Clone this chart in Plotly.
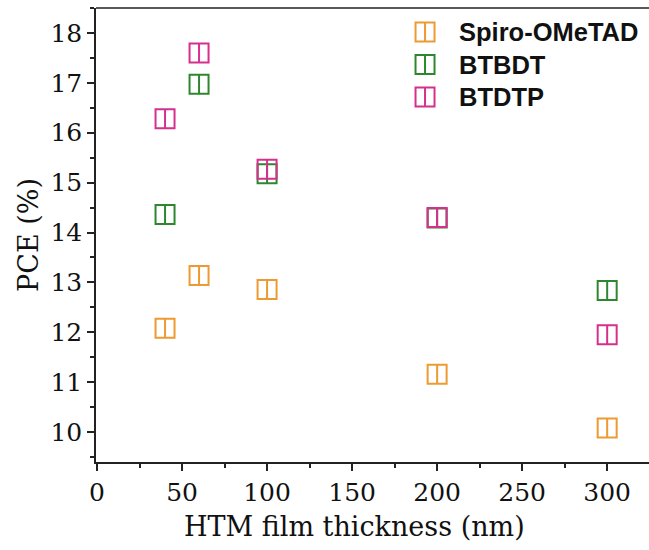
import plotly.graph_objects as go

# ---- data ----
thickness = [40, 60, 100, 200, 300]
series_names = ["Spiro-OMeTAD", "BTBDT", "BTDTP"]
pce_spiro = [12.08, 13.14, 12.86, 11.16, 10.08]
pce_btbdt = [14.36, 16.97, 15.18, 14.29, 12.84]
pce_btdtp = [16.28, 17.60, 15.27, 14.30, 11.95]
series_values = [pce_spiro, pce_btbdt, pce_btdtp]
colors = ["#EE9A32", "#2E872E", "#D6308E"]

x_ticks = [0, 50, 100, 150, 200, 250, 300]
y_ticks = [10, 11, 12, 13, 14, 15, 16, 17, 18]
x_title = "HTM film thickness (nm)"
y_title = "PCE (%)"

fig = go.Figure()

for name, vals, col in zip(series_names, series_values, colors):
    fig.add_trace(go.Scatter(
        x=thickness, y=vals, mode="markers", name=name, showlegend=False,
        marker=dict(symbol="square-open", size=19, color=col,
                    line=dict(width=2, color=col)),
    ))
    fig.add_trace(go.Scatter(
        x=thickness, y=vals, mode="markers", showlegend=False, hoverinfo="skip",
        marker=dict(symbol="line-ns-open", size=13.4, color=col,
                    line=dict(width=2, color=col)),
    ))

# ---- custom legend (inset axis) ----
n = len(series_names)
for i, (name, col) in enumerate(zip(series_names, colors)):
    yy = n - i
    for sym, sz in (("square-open", 19), ("line-ns-open", 13.4)):
        fig.add_trace(go.Scatter(
            x=[0.5], y=[yy], xaxis="x2", yaxis="y2", mode="markers",
            showlegend=False, hoverinfo="skip",
            marker=dict(symbol=sym, size=sz, color=col, line=dict(width=2, color=col)),
        ))
    fig.add_annotation(x=0.652, y=yy, xref="paper", yref="y2", text="<b>%s</b>" % name,
                       showarrow=False, xanchor="left", yanchor="middle",
                       font=dict(family="Liberation Sans", size=25.5, color="#111"),
                       )

tick_font = dict(family="DejaVu Serif", size=25, color="#111")
title_font = dict(family="DejaVu Serif", size=27, color="#111")

fig.add_annotation(x=0.468, y=-0.143, xref="paper", yref="paper", text=x_title,
                   showarrow=False, xanchor="center", yanchor="middle", font=title_font)

fig.update_layout(
    width=649, height=550,
    margin=dict(l=96, r=0, t=8, b=88),
    plot_bgcolor="white", paper_bgcolor="white",
    showlegend=False,
    xaxis=dict(
        range=[-0.6, 324.6], tickvals=x_ticks, ticktext=[str(v) for v in x_ticks],
        ticks="outside", ticklen=7, tickwidth=1.5, tickcolor="#222",
        showline=True, linecolor="#222", linewidth=1.5, mirror=False,
        showgrid=False, zeroline=False, tickfont=tick_font,
        minor=dict(ticks="outside", ticklen=4, tickwidth=1.5, tickcolor="#222", dtick=25, tick0=0),
    ),
    yaxis=dict(
        range=[9.4, 18.5], tickvals=y_ticks, ticktext=[str(v) for v in y_ticks],
        ticks="outside", ticklen=7, tickwidth=1.5, tickcolor="#222",
        showline=True, linecolor="#222", linewidth=1.5, mirror=False,
        showgrid=False, zeroline=False, tickfont=tick_font,
        minor=dict(ticks="outside", ticklen=4, tickwidth=1.5, tickcolor="#222", dtick=0.5, tick0=0),
        title=dict(text=y_title, font=title_font, standoff=4),
    ),
    xaxis2=dict(domain=[0.56, 0.63], range=[0, 1], visible=False, anchor="y2"),
    yaxis2=dict(domain=[0.768, 0.983], range=[0.5, 3.5], visible=False, anchor="x2"),
    shapes=[dict(type="line", xref="paper", yref="paper", x0=0, x1=1, y0=1, y1=1,
                 line=dict(color="#222", width=1.5))],
)

fig.write_html("out.html")
